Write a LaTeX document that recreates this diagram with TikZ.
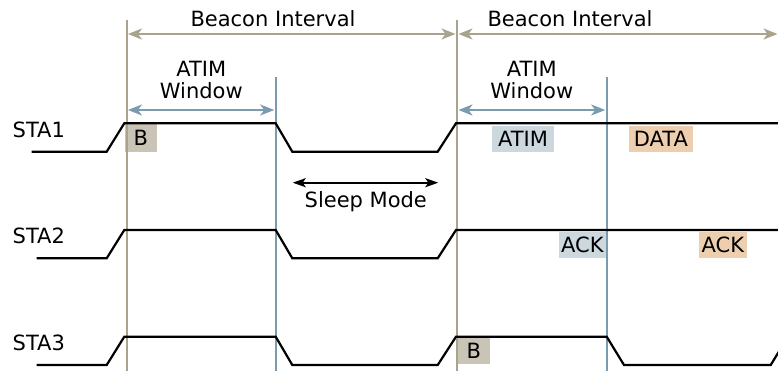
\documentclass[tikz,border=0pt]{standalone}
\usepackage{fontspec}
\setmainfont{DejaVu Sans}
\usetikzlibrary{arrows.meta}

\definecolor{beaconline}{HTML}{A9A38E}
\definecolor{atimline}{HTML}{7B9BAE}
\definecolor{beaconfill}{HTML}{C9C4B6}
\definecolor{atimfill}{HTML}{CCD7DE}
\definecolor{datafill}{HTML}{EDCFB0}

\tikzset{
  lbl/.style={font=\fontsize{21}{22.3}\selectfont, inner sep=0pt, anchor=base},
  frame/.style={font=\fontsize{21}{22.3}\selectfont, inner sep=0pt,
    text height=15.3pt, text depth=0pt, anchor=center},
  beaconbar/.style={draw=beaconline, line width=2pt},
  atimbar/.style={draw=atimline, line width=2pt},
  beaconspan/.style={draw=beaconline, line width=2pt,
    {Stealth[length=14pt,width=11pt,inset=4pt]}-{Stealth[length=14pt,width=11pt,inset=4pt]}},
  atimspan/.style={draw=atimline, line width=2pt,
    {Stealth[length=14pt,width=11pt,inset=4pt]}-{Stealth[length=14pt,width=11pt,inset=4pt]}},
  sleepspan/.style={draw=black, line width=2pt,
    {Stealth[length=13pt,width=9pt,inset=3pt]}-{Stealth[length=13pt,width=9pt,inset=3pt]}},
  signal/.style={draw=black, line width=2.2pt, line join=miter},
}

\begin{document}
\begin{tikzpicture}[x=1pt,y=-1pt]
\useasboundingbox (0,0) rectangle (778,371);
\clip (0,0) rectangle (778,371);

% frame tags on the station lines
\node[frame, fill=beaconfill, minimum width=31.7pt, minimum height=27.7pt] (b1) at (140.8,137.8) {B};
\node[frame, fill=atimfill, minimum width=62pt, minimum height=26pt] (atim) at (523,138.7) {ATIM};
\node[frame, fill=datafill, minimum width=63.7pt, minimum height=26pt] (data) at (660.8,138.7) {DATA};
\node[frame, fill=atimfill, minimum width=46.7pt, minimum height=26pt] (ack1) at (582.3,244.7) {ACK};
\node[frame, fill=datafill, minimum width=47.7pt, minimum height=26pt] (ack2) at (722.8,244.7) {ACK};
\node[frame, fill=beaconfill, minimum width=32.7pt, minimum height=26.7pt] (b3) at (473.7,351) {B};

% beacon and ATIM window boundaries
\coordinate (bt1) at (126.5,20);  \coordinate (bb1) at (126.5,371);
\coordinate (bt2) at (457,20);    \coordinate (bb2) at (457,371);
\coordinate (at1) at (275.7,77.3); \coordinate (ab1) at (275.7,371);
\coordinate (at2) at (606.7,77.3); \coordinate (ab2) at (606.7,371);
\draw[beaconbar] (bt1) -- (bb1);
\draw[beaconbar] (bt2) -- (bb2);
\draw[atimbar] (at1) -- (ab1);
\draw[atimbar] (at2) -- (ab2);

% beacon intervals
\coordinate (bi1) at (128,34);
\coordinate (bi2) at (455.5,34);
\coordinate (bi3) at (458.5,34);
\coordinate (bi4) at (777.5,34);
\draw[beaconspan] (bi1) -- (bi2);
\draw[beaconspan] (bi3) -- (bi4);
\node[lbl] (bil1) at (273,26.7) {Beacon Interval};
\node[lbl] (bil2) at (570,26.7) {Beacon Interval};

% ATIM windows
\coordinate (aw1) at (128,110);
\coordinate (aw2) at (274.2,110);
\coordinate (aw3) at (458.5,110);
\coordinate (aw4) at (605.2,110);
\draw[atimspan] (aw1) -- (aw2);
\draw[atimspan] (aw3) -- (aw4);
\node[lbl, align=center] (awl1) at (201.3,99) {ATIM\\Window};
\node[lbl, align=center] (awl2) at (531.8,99) {ATIM\\Window};

% sleep period
\coordinate (sl1) at (292.7,182.7);
\coordinate (sl2) at (438.3,182.7);
\draw[sleepspan] (sl1) -- (sl2);
\node[lbl] (sleep) at (365.8,207.3) {Sleep Mode};

% station names
\node[lbl, anchor=base west] (sta1) at (12.5,137.3) {STA1};
\node[lbl, anchor=base west] (sta2) at (12.5,243.6) {STA2};
\node[lbl, anchor=base west] (sta3) at (12.5,350) {STA3};

% awake/doze traces
\draw[signal] (31.7,151.7) -- (106.7,151.7) -- (124.3,123.3) -- (275.7,123.3)
  -- (292.3,151.7) -- (437.7,151.7) -- (456,123.3) -- (790,123.3);
\draw[signal] (36.7,258.3) -- (106.7,258.3) -- (124.3,230) -- (275.7,230)
  -- (292.3,258.3) -- (437.7,258.3) -- (456,230) -- (790,230);
\draw[signal] (36.7,365) -- (106.7,365) -- (124.3,336.7) -- (275.7,336.7)
  -- (292.3,365) -- (437.7,365) -- (456,336.7) -- (606.7,336.7)
  -- (624,365) -- (770.7,365) -- (788,336.7);
\end{tikzpicture}
\end{document}
